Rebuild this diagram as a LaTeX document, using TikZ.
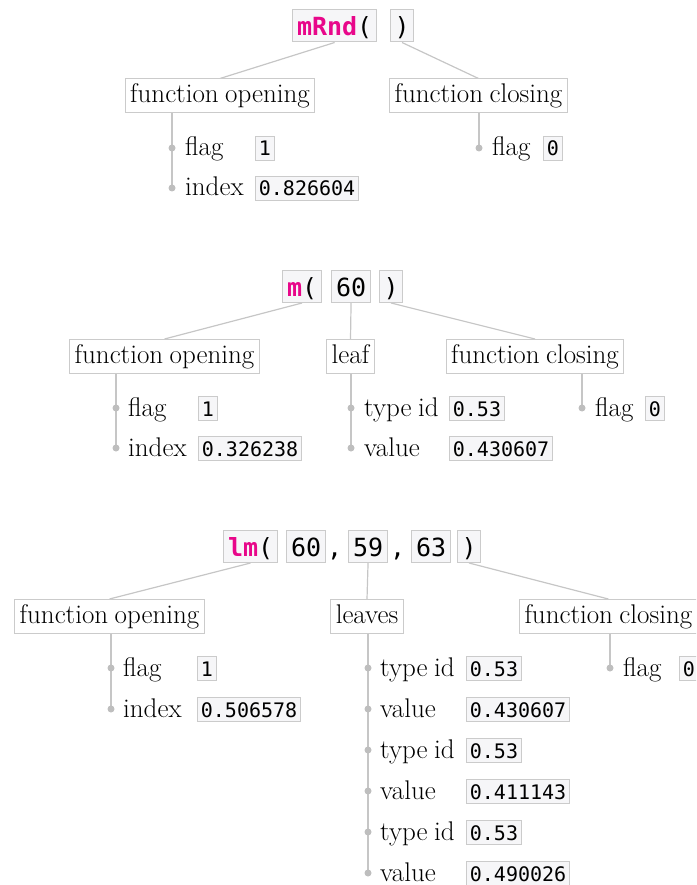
\documentclass[tikz,border=0pt]{standalone}
\usepackage{fontspec}
\newfontfamily\monof{DejaVu Sans Mono}
\pgfdeclarelayer{bg}
\pgfsetlayers{bg,main}
\definecolor{pinkc}{HTML}{E8078A}
\definecolor{linegray}{HTML}{C6C6C6}
\definecolor{boxgray}{HTML}{CBCBCB}
\definecolor{codebg}{HTML}{F6F6F8}
\definecolor{dotgray}{HTML}{BEBEBE}
\newcommand\serifL{\fontsize{27}{30}\selectfont\spaceskip=0.24em plus 0.1em minus 0.05em\relax}
\tikzset{
 lbl/.style={draw=boxgray, fill=white, line width=1pt, font=\serifL, text height=20pt, text depth=6pt, inner xsep=5pt, inner ysep=4pt},
 code/.style={draw=boxgray, fill=codebg, line width=1pt, font=\monof\fontsize{25}{28}\selectfont, text height=23pt, text depth=3pt, inner xsep=4.5pt, inner ysep=3pt, anchor=west},
 paren/.style={code, inner xsep=4pt},
 plaincode/.style={font=\monof\fontsize{25}{28}\selectfont, inner sep=0pt, text height=23pt, text depth=3pt, anchor=west},
 val/.style={draw=boxgray, fill=codebg, line width=0.8pt, font=\monof\fontsize{20}{24}\selectfont, text height=18pt, text depth=2pt, inner xsep=3.5pt, inner ysep=2pt, anchor=west},
 keytext/.style={font=\serifL, inner sep=0pt, anchor=base west},
 dotnode/.style={circle, fill=dotgray, inner sep=0pt, minimum size=7pt},
 conn/.style={draw=linegray, line width=1.2pt},
}
\newcommand\fnname[1]{\textcolor{pinkc}{\textbf{#1}}}
\begin{document}
\begin{tikzpicture}[x=1pt,y=-1pt]
\useasboundingbox (0,0) rectangle (696,885);
\clip (0,0) rectangle (696,885);

% ---------------- Tree 1 ----------------
\node[code] (r1f) at (292,26) {\fnname{mRnd}(};
\node[paren] (r1c) at (390,26) {)};
\node[lbl] (fo1) at (220,96) {function opening};
\node[lbl] (fc1) at (478.5,96) {function closing};
\node[dotnode] (d1a) at (172,148) {};
\node[dotnode] (d1b) at (172,188) {};
\node[keytext] (k1a) at (185,156) {flag};
\node[keytext] (k1b) at (185,196) {index};
\node[val] (v1a) at (255,148) {1};
\node[val] (v1b) at (255,188) {0.826604};
\node[dotnode] (d1c) at (479,148) {};
\node[keytext] (k1c) at (492,156) {flag};
\node[val] (v1c) at (543,148) {0};
\begin{pgfonlayer}{bg}
\draw[conn] (r1f.south) -- (fo1.north);
\draw[conn] (r1c.south) -- (fc1.north);
\draw[conn] (fo1.south -| d1b) -- (d1b.center);
\draw[conn] (fc1.south -| d1c) -- (d1c.center);
\end{pgfonlayer}

% ---------------- Tree 2 ----------------
\node[code] (r2f) at (282,286.5) {\fnname{m}(};
\node[code] (r2a) at (331,286.5) {60};
\node[paren] (r2c) at (379,286.5) {)};
\node[lbl] (fo2) at (164.5,356.5) {function opening};
\node[lbl] (lf2) at (350.5,356.5) {leaf};
\node[lbl] (fc2) at (535,356.5) {function closing};
\node[dotnode] (d2a) at (116,408) {};
\node[dotnode] (d2b) at (116,448) {};
\node[keytext] (k2a) at (128,416) {flag};
\node[keytext] (k2b) at (128,456) {index};
\node[val] (v2a) at (198,408) {1};
\node[val] (v2b) at (198,448) {0.326238};
\node[dotnode] (d2c) at (351,408) {};
\node[dotnode] (d2d) at (351,448) {};
\node[keytext] (k2c) at (364,416) {type id};
\node[keytext] (k2d) at (364,456) {value};
\node[val] (v2c) at (449,408) {0.53};
\node[val] (v2d) at (449,448) {0.430607};
\node[dotnode] (d2e) at (582,408) {};
\node[keytext] (k2e) at (595,416) {flag};
\node[val] (v2e) at (645,408) {0};
\begin{pgfonlayer}{bg}
\draw[conn] (r2f.south) -- (fo2.north);
\draw[conn] (r2a.south) -- (lf2.north);
\draw[conn] (r2c.south) -- (fc2.north);
\draw[conn] (fo2.south -| d2b) -- (d2b.center);
\draw[conn] (lf2.south -| d2d) -- (d2d.center);
\draw[conn] (fc2.south -| d2e) -- (d2e.center);
\end{pgfonlayer}

% ---------------- Tree 3 ----------------
\node[code] (r3f) at (223,546.5) {\fnname{lm}(};
\node[code] (r3a) at (286,546.5) {60};
\node[plaincode] (r3ca) at (327,546.5) {,};
\node[code] (r3b) at (348,546.5) {59};
\node[plaincode] (r3cb) at (390,546.5) {,};
\node[code] (r3d) at (411,546.5) {63};
\node[paren] (r3c) at (457,546.5) {)};
\node[lbl] (fo3) at (109.5,616.5) {function opening};
\node[lbl] (lv3) at (367,616.5) {leaves};
\node[lbl, anchor=west] (fc3) at (519,616.5) {function closing};
\node[dotnode] (d3a) at (111,668) {};
\node[dotnode] (d3b) at (111,709) {};
\node[keytext] (k3a) at (123,676) {flag};
\node[keytext] (k3b) at (123,717) {index};
\node[val] (v3a) at (197,668) {1};
\node[val] (v3b) at (197,709) {0.506578};
\node[dotnode] (e1) at (368,668) {};
\node[dotnode] (e2) at (368,709) {};
\node[dotnode] (e3) at (368,750) {};
\node[dotnode] (e4) at (368,791) {};
\node[dotnode] (e5) at (368,832) {};
\node[dotnode] (e6) at (368,873) {};
\node[keytext] (ke1) at (380,676) {type id};
\node[keytext] (ke2) at (380,717) {value};
\node[keytext] (ke3) at (380,758) {type id};
\node[keytext] (ke4) at (380,799) {value};
\node[keytext] (ke5) at (380,840) {type id};
\node[keytext] (ke6) at (380,881) {value};
\node[val] (ve1) at (466,668) {0.53};
\node[val] (ve2) at (466,709) {0.430607};
\node[val] (ve3) at (466,750) {0.53};
\node[val] (ve4) at (466,791) {0.411143};
\node[val] (ve5) at (466,832) {0.53};
\node[val] (ve6) at (466,873) {0.490026};
\node[dotnode] (d3c) at (610,668) {};
\node[keytext] (k3c) at (623,676) {flag};
\node[val] (v3c) at (679,668) {0};
\begin{pgfonlayer}{bg}
\draw[conn] (r3f.south) -- (fo3.north);
\draw[conn] (r3b.south) -- (lv3.north);
\draw[conn] (r3c.south) -- (fc3.north);
\draw[conn] (fo3.south -| d3b) -- (d3b.center);
\draw[conn] (lv3.south -| e6) -- (e6.center);
\draw[conn] (fc3.south -| d3c) -- (d3c.center);
\end{pgfonlayer}
\end{tikzpicture}
\end{document}
